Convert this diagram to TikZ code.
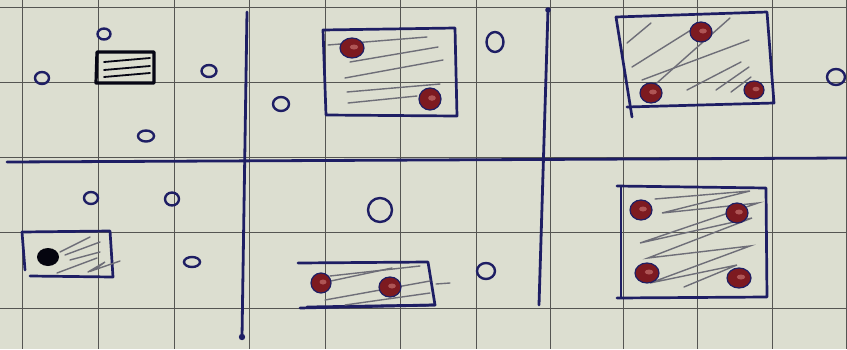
\documentclass[tikz,border=0pt]{standalone}
\usetikzlibrary{positioning}
\definecolor{paper}{RGB}{220,222,208}
\definecolor{gridline}{RGB}{85,85,82}
\definecolor{ink}{RGB}{30,30,100}
\definecolor{dotred}{RGB}{125,26,32}
\definecolor{dothi}{RGB}{175,85,85}
\definecolor{hatch}{RGB}{110,110,120}

\begin{document}
\begin{tikzpicture}[x=1pt,y=-1pt,
    gridrule/.style={gridline,line width=1pt},
    axisline/.style={ink,line width=2.8pt,line cap=round},
    box/.style={ink,line width=2.7pt,line join=round,line cap=round},
    hatchline/.style={hatch,line width=1.4pt,line cap=round},
    pebble/.style={ink,line width=2.4pt},
    reddot/.style={fill=dotred,draw=ink,line width=1.2pt}]
  \fill[paper] (0,0) rectangle (847,349);
  \useasboundingbox (0,0) rectangle (847,349);
  % squared paper
  \foreach \x in {22,98,174,249,325,400,476,550,623,697,772,846}
    \draw[gridrule] (\x,0) -- (\x,349);
  \foreach \y in {7,82,157,232,308}
    \draw[gridrule] (0,\y) -- (847,\y);
  % the two cuts and the split
  \draw[axisline] (7,162) -- (847,158);
  \draw[axisline] (247,12) -- (242,337);
  \fill[ink] (242,337) circle (3.2);
  \draw[axisline] (548,10) -- (539,305);
  \fill[ink] (548,10) circle (2.8);
  % boxes
  \draw[box,line width=3.2pt,black!80!ink] (97,52) -- (154,52) -- (154,83) -- (96,83) -- cycle;
  \foreach \a/\b in {62/58,70/66,77/73}
    \draw[hatchline,black!80!ink,line width=1.8pt] (104,\a) -- (150,\b);
  \draw[box] (323,30) -- (455,28) -- (457,116) -- (326,115) -- cycle;
  \foreach \p/\q in {{328,45}/{427,37},{350,62}/{438,47},{345,78}/{443,60},{347,92}/{440,84},{348,103}/{417,96}}
    \draw[hatchline] (\p) -- (\q);
  \draw[box] (616,17) -- (767,12) -- (774,103) -- (627,107);
  \draw[box] (616,17) -- (632,117);
  \foreach \p/\q in {{627,43}/{651,23},{632,67}/{691,30},{642,80}/{749,40},{649,90}/{730,18},{687,90}/{741,62},{716,90}/{749,67},{731,92}/{751,77}}
    \draw[hatchline] (\p) -- (\q);
  \draw[box] (22,232) -- (25,270);
  \draw[box] (22,232) -- (110,231) -- (113,277) -- (30,276);
  \foreach \p/\q in {{60,252}/{90,237},{65,255}/{100,242},{70,260}/{100,252},{57,273}/{97,258}}
    \draw[hatchline] (\p) -- (\q);
  \draw[hatchline] (88,272) -- (105,262) -- (94,270) -- (120,261);
  \draw[box] (298,263) -- (428,262) -- (435,305) -- (307,307);
  \draw[box] (300,308) -- (435,305);
  \foreach \p/\q in {{312,285}/{392,268},{330,276}/{420,266},{325,300}/{430,281},{345,305}/{430,293}}
    \draw[hatchline] (\p) -- (\q);
  \draw[hatchline] (436,284) -- (450,283);
  \draw[box] (617,186) -- (766,188) -- (767,297) -- (617,298);
  \draw[box] (621,187) -- (621,297);
  \draw[hatchline] (655,199) -- (750,191) -- (662,213) -- (758,203) -- (640,243)
    -- (752,218) -- (648,258) -- (750,246) -- (650,283) -- (737,265) -- (684,287);
  % open points
  \foreach \x/\y/\rx/\ry in {104/34/6.5/5.5,42/78/7/6,209/71/7.5/6,146/136/8/5.5,
      281/104/8/7,495/42/8.5/10,836/77/9/8,91/198/7/6,172/199/7/6.5,192/262/8/5,
      380/210/12/12,486/271/9/8}
    \draw[pebble] (\x,\y) ellipse ({\rx} and {\ry});
  % marked points
  \foreach \x/\y/\rx/\ry in {352/48/12/10,430/99/11/11,701/32/11/10,651/93/11/10,
      754/90/10/9,321/283/10/10,390/287/11/10,641/210/11/10,737/213/11/10,
      647/273/12/10,739/278/12/10}{
    \draw[reddot] (\x,\y) ellipse ({\rx} and {\ry});
    \fill[dothi] (\x+2,\y-1) ellipse ({0.35*\rx} and {0.25*\ry});
  }
  \fill[black!85!ink] (48,257) ellipse (11 and 9);
\end{tikzpicture}
\end{document}
